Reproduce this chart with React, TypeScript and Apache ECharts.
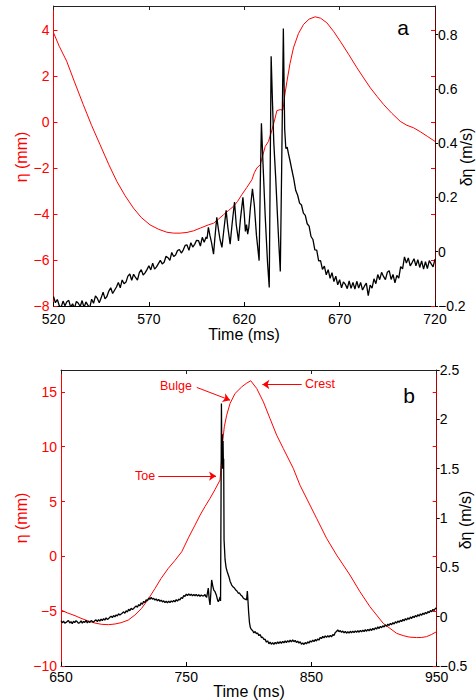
import React, { useEffect, useRef } from 'react';
import * as echarts from 'echarts';

const RED = '#ff0000';
const FONT = '"Liberation Sans", Arial, Helvetica, sans-serif';

// ---------- Panel a ----------
const aTimeTicks = [520, 570, 620, 670, 720];
const aEtaTicks = [-8, -6, -4, -2, 0, 2, 4];
const aVelTicks = [-0.2, 0, 0.2, 0.4, 0.6, 0.8];

const aEta: [number, number][] = [
  [520, 3.89], [523, 3.3], [526.9, 2.65], [531, 1.75], [535.6, 0.76], [540, -0.15], [544.4, -0.98], [549, -1.85], [553.2, -2.58], [557.5, -3.2],
  [561.9, -3.74], [566, -4.15], [570.6, -4.47], [575, -4.66], [579.4, -4.79], [583, -4.83], [586.4, -4.83], [590, -4.8], [593.4, -4.73], [597, -4.61],
  [601.2, -4.47], [603.9, -4.4], [606.5, -4.22], [609.1, -4.03], [611.7, -3.85], [614.3, -3.67], [616.5, -3.45], [618.7, -3.16], [621.3, -2.85], [624, -2.51],
  [625.3, -2.2], [626.6, -2.0], [628.4, -1.85], [629.7, -1.45], [631, -1.06], [632.7, -0.84], [634.5, -0.35], [636.2, 0.18], [637.1, 0.5], [638.8, 0.54],
  [640.3, 0.52], [641.3, 1.2], [642.4, 1.78], [644, 2.55], [645.8, 3.23], [648.4, 3.85], [651.1, 4.25], [654, 4.48], [657.2, 4.58], [660, 4.52],
  [663.3, 4.32], [666.8, 3.95], [670.3, 3.52], [674.7, 2.95], [679.1, 2.36], [682.6, 1.92], [686.1, 1.49], [689.6, 1.12], [693.1, 0.76], [697.4, 0.38],
  [701.8, 0.03], [705.3, -0.14], [708.8, -0.25], [712.3, -0.42], [716, -0.62], [720, -0.84],
];

// 1 ms samples from 520 ms
const aVelRiseStart = 520;
const aVelRise = [
  -0.165, -0.188, -0.176, -0.198, -0.205, -0.182, -0.199, -0.184, -0.179, -0.205,
  -0.192, -0.208, -0.183, -0.19, -0.202, -0.18, -0.206, -0.185, -0.197, -0.206,
  -0.175, -0.19, -0.163, -0.172, -0.188, -0.17, -0.149, -0.174, -0.165, -0.145,
  -0.133, -0.154, -0.142, -0.13, -0.113, -0.133, -0.104, -0.118, -0.112, -0.09,
  -0.082, -0.105, -0.083, -0.095, -0.105, -0.077, -0.066, -0.086, -0.078, -0.066,
  -0.052, -0.067, -0.042, -0.064, -0.056, -0.044, -0.032, -0.045, -0.039, -0.017,
  -0.022, -0.032, -0.003, -0.018, -0.012, 0.004, 0.008, -0.005, 0.006, 0.023,
  0.025, 0.005, 0.033, 0.017, 0.027, 0.042, 0.041, 0.021, 0.053, 0.035,
  0.054,
];

const aVelBurst: [number, number][] = [
  [600.5, 0.048], [601.2, 0.09], [602.0, 0.06], [602.8, 0.035], [603.9, -0.009], [604.6, 0.05], [605.6, 0.127], [606.4, 0.085], [607.3, 0.045], [608.3, 0.016],
  [609.3, 0.08], [610.5, 0.152], [611.4, 0.09], [612.6, 0.028], [613.6, 0.1], [614.9, 0.183], [615.8, 0.1], [617.0, 0.04], [618.0, 0.12], [619.3, 0.2],
  [620.0, 0.14], [620.6, 0.075], [621.2, 0.1], [621.8, 0.065], [622.4, 0.09], [623.2, 0.16], [624.3, 0.232], [625.3, 0.17], [626.4, 0.06], [627.8, -0.033],
  [628.4, 0.25], [629.0, 0.473], [629.8, 0.33], [631.0, 0.13], [632.2, -0.04], [633.1, -0.132], [633.6, 0.3], [634.1, 0.72], [634.8, 0.55], [635.5, 0.4],
  [636.5, 0.27], [637.5, 0.12], [638.2, 0.02], [638.9, -0.073], [639.6, 0.3], [640.5, 0.822], [641.2, 0.45], [641.8, 0.38], [642.5, 0.385], [643.2, 0.36],
  [644.0, 0.335], [645.0, 0.3],
];

// 1 ms samples from 646 ms
const aVelDecayStart = 646;
const aVelDecay = [
  0.266, 0.225, 0.208, 0.179, 0.172, 0.142, 0.134, 0.103, 0.094, 0.056,
  0.045, 0.007, 0.006, -0.034, -0.033, -0.065, -0.053, -0.085, -0.066, -0.098,
  -0.077, -0.11, -0.09, -0.122, -0.103, -0.133, -0.111, -0.12, -0.136, -0.108,
  -0.135, -0.113, -0.138, -0.109, -0.134, -0.113, -0.141, -0.127, -0.116, -0.162,
  -0.123, -0.134, -0.1, -0.118, -0.084, -0.103, -0.076, -0.091, -0.103, -0.076,
  -0.07, -0.102, -0.084, -0.115, -0.087, -0.097, -0.055, -0.063, -0.019, -0.042,
  -0.023, -0.052, -0.04, -0.026, -0.052, -0.029, -0.058, -0.034, -0.064, -0.037,
  -0.062, -0.033, -0.045, -0.056, -0.027,
];

// ---------- Panel b ----------
const bTimeTicks = [650, 750, 850, 950];
const bEtaTicks = [-10, -5, 0, 5, 10, 15];
const bVelTicks = [-0.5, 0, 0.5, 1, 1.5, 2, 2.5];

const bEta: [number, number][] = [
  [650, -4.9], [655, -5.15], [661.2, -5.41], [666, -5.65], [671.8, -5.9], [677, -6.08], [682.5, -6.2], [688, -6.23], [693.1, -6.17], [698, -6.05],
  [703.7, -5.81], [709, -5.35], [714.4, -4.74], [720, -3.85], [725.1, -2.92], [730, -2.0], [735.7, -1.09], [741, -0.37], [746.4, 0.42], [749, 1.03],
  [752, 1.75], [757, 2.85], [761, 3.75], [765, 4.55], [769, 5.29], [773, 6.1], [777, 6.96], [778.3, 8.93], [779.1, 10.45], [780.4, 11.82],
  [782.3, 12.88], [785, 13.95], [789, 14.86], [794.3, 15.46], [798, 15.78], [801.5, 16.02], [806.3, 15.31], [811.6, 14.09], [816.9, 12.57], [822.2, 11.06],
  [827.5, 9.84], [835.5, 8.02], [840.8, 6.5], [848.8, 4.68], [854.1, 3.47], [862.1, 1.64], [870.1, 0.12], [875.4, -0.79], [880.7, -1.7], [888.7, -3.22],
  [896.7, -4.59], [902, -5.35], [907.3, -6.11], [912.6, -6.56], [918, -7.02], [923.3, -7.23], [928, -7.36], [933.9, -7.41], [938, -7.4], [941.9, -7.32],
  [946, -7.12], [949.9, -6.87],
];

// 1 ms samples from 650 ms
const bVelPreStart = 650;
const bVelPre = [
  -0.04, -0.062, -0.045, -0.066, -0.058, -0.048, -0.039, -0.064, -0.05, -0.07,
  -0.047, -0.06, -0.041, -0.052, -0.067, -0.061, -0.043, -0.066, -0.049, -0.058,
  -0.038, -0.063, -0.046, -0.059, -0.039, -0.048, -0.056, -0.04, -0.033, -0.05,
  -0.03, -0.046, -0.025, -0.04, -0.02, -0.035, -0.012, -0.028, -0.02, -0.006,
  0.005, -0.01, 0.012, -0.002, 0.018, 0.008, 0.03, 0.016, 0.026, 0.038,
  0.049, 0.035, 0.06, 0.048, 0.075, 0.06, 0.085, 0.072, 0.083, 0.097,
  0.108, 0.096, 0.122, 0.11, 0.14, 0.126, 0.155, 0.142, 0.172, 0.16,
  0.19, 0.176, 0.195, 0.178, 0.186, 0.168, 0.18, 0.16, 0.175, 0.155,
  0.168, 0.15, 0.16, 0.142, 0.156, 0.14, 0.158, 0.143, 0.16, 0.148,
  0.166, 0.15, 0.172, 0.158, 0.178, 0.168, 0.195, 0.185, 0.215, 0.205,
  0.228, 0.214, 0.232, 0.215, 0.228, 0.21, 0.225, 0.212, 0.226, 0.208,
  0.222, 0.205, 0.22, 0.21,
];

const bVelJump: [number, number][] = [
  [764, 0.212], [765.0, 0.225], [765.6, 0.205], [766.3, 0.195], [767.0, 0.245], [767.6, 0.29], [768.3, 0.18], [769.0, 0.118], [769.7, 0.25], [770.3, 0.372],
  [771.2, 0.31], [772.0, 0.27], [773.0, 0.253], [774.0, 0.22], [775.0, 0.17], [775.6, 0.152], [776.3, 0.17], [777.0, 0.2], [777.4, 0.16], [777.8, 1.2],
  [778.1, 2.16], [778.5, 1.55], [778.8, 1.85], [779.1, 1.5], [779.4, 1.78], [779.7, 1.52], [779.9, 1.6], [780.2, 0.78], [781.0, 0.58], [781.8, 0.5],
  [782.6, 0.46], [783.4, 0.43], [784.2, 0.4], [785.0, 0.36], [786.3, 0.32], [787.5, 0.3], [788.5, 0.29], [789.5, 0.27], [790.5, 0.26], [791.6, 0.237],
  [792.5, 0.24], [793.5, 0.22], [794.5, 0.21], [795.5, 0.19], [796.5, 0.18], [797.5, 0.175], [798.2, 0.17], [798.8, 0.26], [799.3, 0.16], [799.8, 0.05],
  [800.5, -0.06], [801.2, -0.11], [802.0, -0.13],
];

// 1 ms samples from 803 ms
const bVelPostStart = 803;
const bVelPost = [
  -0.14, -0.165, -0.15, -0.172, -0.165, -0.192, -0.18, -0.212, -0.208, -0.232,
  -0.228, -0.258, -0.245, -0.275, -0.258, -0.28, -0.262, -0.282, -0.26, -0.276,
  -0.255, -0.272, -0.252, -0.27, -0.25, -0.266, -0.246, -0.262, -0.243, -0.258,
  -0.238, -0.255, -0.236, -0.254, -0.24, -0.262, -0.248, -0.268, -0.255, -0.28,
  -0.265, -0.282, -0.262, -0.276, -0.255, -0.268, -0.245, -0.258, -0.238, -0.252,
  -0.232, -0.246, -0.226, -0.238, -0.21, -0.222, -0.2, -0.214, -0.195, -0.21,
  -0.192, -0.208, -0.19, -0.205, -0.182, -0.19, -0.16, -0.15, -0.135, -0.152,
  -0.14, -0.16, -0.145, -0.165, -0.15, -0.168, -0.152, -0.166, -0.148, -0.164,
  -0.146, -0.162, -0.144, -0.16, -0.142, -0.158, -0.139, -0.155, -0.136, -0.152,
  -0.132, -0.148, -0.128, -0.143, -0.124, -0.14, -0.118, -0.133, -0.112, -0.126,
  -0.104, -0.12, -0.098, -0.112, -0.092, -0.104, -0.083, -0.097, -0.076, -0.09,
  -0.068, -0.082, -0.06, -0.074, -0.052, -0.066, -0.044, -0.058, -0.036, -0.05,
  -0.028, -0.042, -0.02, -0.034, -0.013, -0.026, -0.004, -0.018, 0.004, -0.01,
  0.012, -0.002, 0.02, 0.006, 0.028, 0.014, 0.036, 0.022, 0.044, 0.03,
  0.052, 0.04, 0.062, 0.05, 0.074, 0.062, 0.086, 0.08,
];

// annotations (panel b, data coords: time, eta)
const bNotes = [
  { name: 'Bulge', at: [741.8, 15.52], from: [758.4, 15.41], to: [785.0, 14.25] },
  { name: 'Crest', at: [856.8, 15.68], from: [842.2, 15.68], to: [810.8, 15.68] },
  { name: 'Toe', at: [717.1, 7.32], from: [727.7, 7.32], to: [773.8, 7.32] },
];

const sampled = (start: number, vals: number[]) => vals.map((v, i) => [start + i, v]);
const aVel = [...sampled(aVelRiseStart, aVelRise), ...aVelBurst, ...sampled(aVelDecayStart, aVelDecay)];
const bVel = [...sampled(bVelPreStart, bVelPre), ...bVelJump, ...sampled(bVelPostStart, bVelPost)];

const fmt = (v: number) => (v < 0 ? '\u2212' + String(-v) : String(v));

function xAxes(grid: number, min: number, max: number, ticks: number[], margin: number) {
  return [
    {
      gridIndex: grid, type: 'value', min, max, position: 'bottom',
      axisLine: { onZero: false, lineStyle: { color: '#000', width: 1 } },
      axisTick: { inside: true, length: 4, customValues: ticks, lineStyle: { color: '#000' } },
      axisLabel: { customValues: ticks, color: '#000', fontSize: 14, fontFamily: FONT, margin },
      splitLine: { show: false },
    },
    {
      gridIndex: grid, type: 'value', min, max, position: 'top',
      axisLine: { onZero: false, lineStyle: { color: '#222', width: 1 } },
      axisTick: { inside: true, length: 4, customValues: ticks, lineStyle: { color: '#222' } },
      axisLabel: { show: false },
      splitLine: { show: false },
    },
  ];
}

function yAxes(grid: number, eMin: number, eMax: number, eTicks: number[], vMin: number, vMax: number, vTicks: number[], rightColor: string) {
  return [
    {
      gridIndex: grid, type: 'value', min: eMin, max: eMax, position: 'left',
      axisLine: { show: true, onZero: false, lineStyle: { color: RED, width: 1 } },
      axisTick: { show: true, inside: true, length: 4, customValues: eTicks, lineStyle: { color: RED } },
      axisLabel: { customValues: eTicks, color: RED, fontSize: 14, fontFamily: FONT, margin: 4, formatter: fmt },
      splitLine: { show: false },
    },
    {
      gridIndex: grid, type: 'value', min: vMin, max: vMax, position: 'right',
      axisLine: { show: true, onZero: false, lineStyle: { color: rightColor, width: 1 } },
      axisTick: { show: true, inside: false, length: 3, customValues: vTicks, lineStyle: { color: '#000' } },
      axisLabel: { customValues: vTicks, color: '#000', fontSize: 14, fontFamily: FONT, margin: 3, formatter: fmt },
      splitLine: { show: false },
    },
    {
      gridIndex: grid, type: 'value', min: eMin, max: eMax, position: 'right',
      axisLine: { show: false, onZero: false },
      axisTick: { show: true, inside: true, length: 4, customValues: eTicks, lineStyle: { color: RED } },
      axisLabel: { show: false },
      splitLine: { show: false },
    },
  ];
}

const txt = (text: string, x: number, y: number, size: number, color: string, rot = 0) => ({
  type: 'text', x, y, rotation: rot, silent: true,
  style: {
    text, fill: color, font: `${size}px ${FONT}`,
    textAlign: 'center', textVerticalAlign: 'middle', align: 'center', verticalAlign: 'middle',
  },
});

const line = (x: number, y: number, data: any[], color: string, width: number, z: number, extra: any = {}) => ({
  type: 'line', xAxisIndex: x, yAxisIndex: y, data, showSymbol: false, symbol: 'none',
  lineStyle: { color, width }, itemStyle: { color }, z, silent: true, emphasis: { disabled: true },
  ...extra,
});

const option: any = {
  animation: false,
  backgroundColor: '#fff',
  grid: [
    { left: 53.5, top: 6, width: 381.5, height: 300, containLabel: false, outerBoundsMode: 'none' },
    { left: 61, top: 370, width: 375.7, height: 296, containLabel: false, outerBoundsMode: 'none' },
  ],
  xAxis: [...xAxes(0, 520, 720, aTimeTicks, 6), ...xAxes(1, 650, 950, bTimeTicks, 4)],
  yAxis: [
    ...yAxes(0, -8, 5.05, aEtaTicks, -0.2, 0.905, aVelTicks, '#6b0000'),
    ...yAxes(1, -10, 17, bEtaTicks, -0.5, 2.5, bVelTicks, '#b00000'),
  ],
  series: [
    line(0, 0, aEta, RED, 1, 2),
    line(0, 1, aVel, '#000', 1.3, 3),
    line(2, 3, bEta, RED, 1, 2, {
      markLine: {
        silent: true, symbol: ['none', 'arrow'], symbolSize: 7,
        lineStyle: { color: RED, width: 1, type: 'solid' },
        label: { show: false }, emphasis: { disabled: true },
        data: bNotes.map((n) => [{ coord: n.from }, { coord: n.to }]),
      },
      markPoint: {
        silent: true, symbol: 'circle', symbolSize: 1,
        itemStyle: { color: 'rgba(0,0,0,0)' },
        label: { show: true, position: 'inside', color: RED, fontSize: 12.5, fontFamily: FONT, formatter: '{b}' },
        data: bNotes.map((n) => ({ name: n.name, coord: n.at })),
      },
    }),
    line(2, 4, bVel, '#000', 1.3, 3),
  ],
  graphic: [
    txt('Time (ms)', 244, 334, 16, '#000'),
    txt('\u03b7 (mm)', 21.7, 157, 16, RED, Math.PI / 2),
    txt('\u03b4\u03b7 (m/s)', 466, 157, 16, '#000', Math.PI / 2),
    txt('a', 403, 27, 21, '#000'),
    txt('Time (ms)', 249, 691, 16, '#000'),
    txt('\u03b7 (mm)', 21.7, 518, 16, RED, Math.PI / 2),
    txt('\u03b4\u03b7 (m/s)', 465, 520, 16, '#000', Math.PI / 2),
    txt('b', 409, 395, 21, '#000'),
  ],
};

export default function App() {
  const ref = useRef<HTMLDivElement>(null);
  useEffect(() => {
    document.body.style.margin = '0';
    const chart = echarts.init(ref.current!, null, { renderer: 'svg' });
    chart.setOption(option);
    return () => chart.dispose();
  }, []);
  return <div ref={ref} style={{ width: 476, height: 700, background: '#fff' }} />;
}
